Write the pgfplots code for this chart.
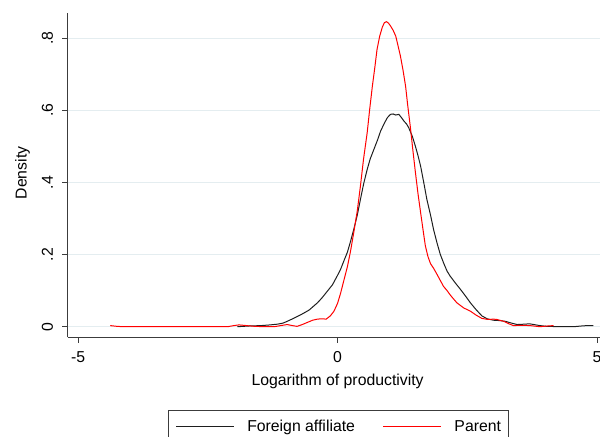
\documentclass[border=0pt]{standalone}
\usepackage{fontspec}
\setmainfont{Liberation Sans}
\usepackage{pgfplots}
\pgfplotsset{compat=1.18}
\definecolor{gridc}{RGB}{228,237,240}
\definecolor{axisc}{RGB}{60,60,60}
\definecolor{fa}{RGB}{30,30,30}
\newcommand{\ff}{\fontsize{15.8bp}{19bp}\selectfont}

\begin{document}
\begin{tikzpicture}
\begin{axis}[
    scale only axis,
    width=532.3bp, height=324.3bp,
    xmin=-5.2, xmax=5.056,
    ymin=-0.0294, ymax=0.870,
    axis x line*=bottom, axis y line*=left,
    axis line style={-, draw=axisc, line width=0.9bp},
    tick align=outside,
    major tick length=5.5bp,
    tick style={draw=axisc, line width=0.9bp},
    xtick={-5,0,5}, xticklabels={-5,0,5},
    ytick={0,0.2,0.4,0.6,0.8}, yticklabels={0,.2,.4,.6,.8},
    tick label style={font=\ff, inner sep=0pt},
    xticklabel style={anchor=north},
    yticklabel style={rotate=90, anchor=south},
    xticklabel shift=8.9bp,
    yticklabel shift=9bp,
    ymajorgrids,
    grid style={draw=gridc, line width=0.9bp},
    label style={font=\ff},
    xlabel={Logarithm of productivity},
    ylabel={Density},
    xlabel style={at={(axis description cs:0.507,-0.1471)}, anchor=base},
    ylabel style={at={(axis description cs:-0.0770,0.5066)}, rotate=0, anchor=base},
    legend columns=2,
    legend image code/.code={\draw[#1] (0bp,0bp) -- (58bp,0bp);},
    legend style={
        at={(0.189,-0.2242)}, anchor=north west,
        draw=axisc, line width=0.9bp, fill=white,
        inner xsep=7bp, inner ysep=9.5bp,
        font=\ff,
        nodes={inner sep=0pt, text depth=0.15em},
        /tikz/every odd column/.append style={column sep=12.5bp},
        /tikz/every even column/.append style={column sep=28bp},
    },
    legend cell align=left,
]
% Foreign affiliate
\addplot[fa, line width=1bp] coordinates {
    (-1.93,0.000) (-1.70,0.002) (-1.48,0.003) (-1.30,0.005) (-1.16,0.007)
    (-1.05,0.010) (-0.97,0.015) (-0.85,0.023) (-0.71,0.033) (-0.55,0.046)
    (-0.39,0.066) (-0.30,0.080) (-0.20,0.098) (-0.10,0.116) (-0.01,0.140)
    (0.06,0.160) (0.12,0.182) (0.19,0.207) (0.25,0.237) (0.31,0.269)
    (0.38,0.310) (0.44,0.353) (0.50,0.395) (0.57,0.436) (0.63,0.466)
    (0.70,0.492) (0.77,0.518) (0.83,0.543) (0.90,0.564) (0.96,0.580)
    (1.02,0.589) (1.07,0.590) (1.12,0.587) (1.18,0.589) (1.23,0.580)
    (1.28,0.570) (1.33,0.562) (1.37,0.552) (1.44,0.528) (1.50,0.500)
    (1.55,0.474) (1.60,0.445) (1.66,0.400) (1.72,0.353) (1.79,0.310)
    (1.85,0.269) (1.92,0.230) (1.98,0.200) (2.05,0.174) (2.11,0.154)
    (2.17,0.140) (2.27,0.121) (2.37,0.103) (2.47,0.084) (2.56,0.066)
    (2.67,0.047) (2.78,0.030) (2.88,0.022) (3.00,0.018) (3.12,0.017)
    (3.23,0.015) (3.35,0.010) (3.46,0.006) (3.60,0.007) (3.70,0.008)
    (3.78,0.006) (3.90,0.003) (4.03,0.001) (4.30,0.000) (4.55,0.000)
    (4.70,0.002) (4.80,0.003) (4.93,0.003)
};
% Parent
\addplot[red, line width=1bp] coordinates {
    (-4.38,0.003) (-4.25,0.001) (-4.14,0.000) (-3.50,0.000) (-3.00,0.000)
    (-2.50,0.000) (-2.12,0.000) (-2.00,0.003) (-1.90,0.005) (-1.75,0.003)
    (-1.60,0.001) (-1.40,0.000) (-1.22,0.000) (-1.10,0.003) (-0.97,0.006)
    (-0.87,0.003) (-0.78,0.001) (-0.68,0.006) (-0.58,0.012) (-0.48,0.018)
    (-0.39,0.021) (-0.30,0.022) (-0.22,0.021) (-0.14,0.030) (-0.07,0.043)
    (0.00,0.065) (0.06,0.094) (0.12,0.128) (0.19,0.167) (0.25,0.210)
    (0.31,0.260) (0.38,0.322) (0.44,0.390) (0.50,0.465) (0.57,0.538)
    (0.62,0.605) (0.67,0.667) (0.72,0.722) (0.76,0.769) (0.81,0.805)
    (0.86,0.830) (0.90,0.843) (0.94,0.846) (0.98,0.842) (1.02,0.834)
    (1.07,0.822) (1.12,0.806) (1.16,0.782) (1.21,0.751) (1.26,0.712)
    (1.31,0.667) (1.35,0.615) (1.40,0.556) (1.45,0.490) (1.50,0.427)
    (1.55,0.368) (1.60,0.316) (1.65,0.265) (1.69,0.225) (1.74,0.195)
    (1.79,0.175) (1.85,0.162) (1.92,0.144) (1.98,0.128) (2.04,0.112)
    (2.11,0.100) (2.17,0.088) (2.24,0.076) (2.30,0.066) (2.43,0.052)
    (2.56,0.043) (2.67,0.032) (2.78,0.023) (2.90,0.020) (3.00,0.021)
    (3.07,0.020) (3.20,0.015) (3.30,0.008) (3.39,0.003) (3.55,0.004)
    (3.71,0.003) (3.90,0.000) (4.05,0.002) (4.16,0.003)
};
\legend{Foreign affiliate, Parent}
\end{axis}
\pgfresetboundingbox
\useasboundingbox (-67.7bp,-99.7bp) rectangle (532.3bp,337.3bp);
\end{tikzpicture}
\end{document}
